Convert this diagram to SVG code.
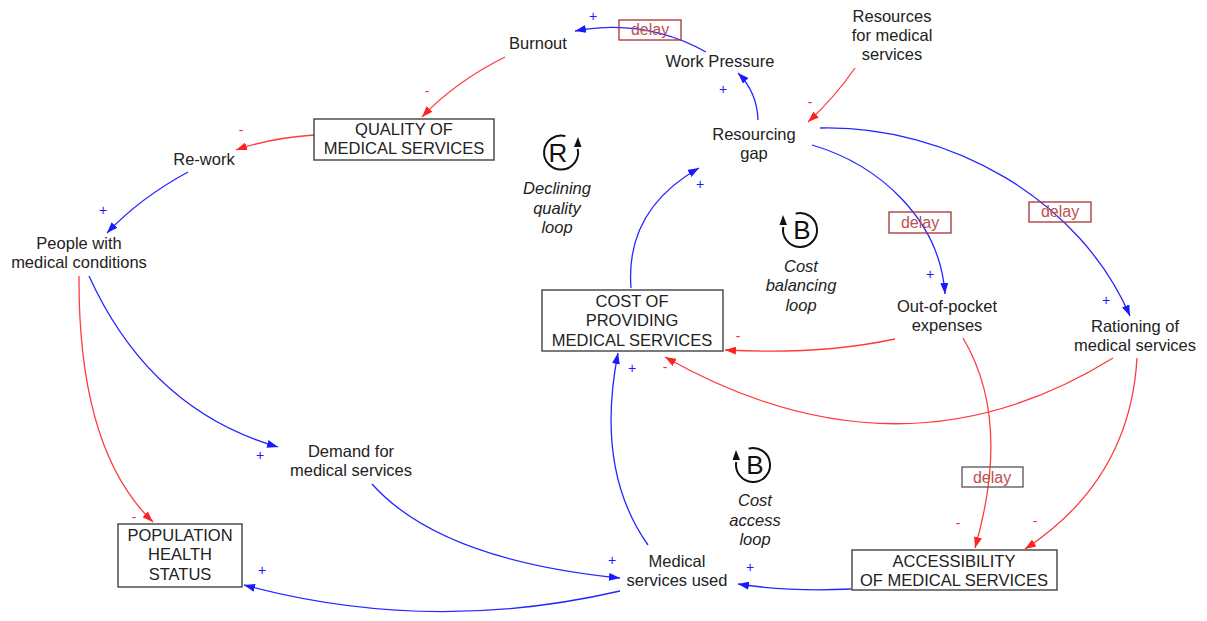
<svg xmlns="http://www.w3.org/2000/svg" width="1207" height="621" viewBox="0 0 1207 621">
  <style>
    .lbl { font-family: "Liberation Sans", Arial, sans-serif; font-size: 16.5px; fill: #222; text-anchor: middle; }
    .loop { font-family: "Liberation Sans", Arial, sans-serif; font-size: 16.5px; font-style: italic; fill: #222; text-anchor: middle; }
    .box { fill: #fff; stroke: #333; stroke-width: 1.3; }
    .pos { stroke: #2626ff; stroke-width: 1.3; fill: none; marker-end: url(#ahBlue); }
    .neg { stroke: #ff3b3b; stroke-width: 1.3; fill: none; marker-end: url(#ahRed); }
    .sp { font-family: "Liberation Sans", Arial, sans-serif; font-size: 14px; fill: #1a1aff; text-anchor: middle; }
    .sn { font-family: "Liberation Sans", Arial, sans-serif; font-size: 14px; fill: #ff2a2a; text-anchor: middle; }
    .dbox { fill: none; stroke: #a83232; stroke-width: 1.3; }
    .dtxt { font-family: "Liberation Sans", Arial, sans-serif; font-size: 16px; fill: #c0504d; text-anchor: middle; }
    .icon { fill: none; stroke: #111; stroke-width: 2; }
    .iconL { font-family: "Liberation Sans", Arial, sans-serif; font-size: 26px; fill: #111; text-anchor: middle; }
  </style>
  <defs>
    <marker id="ahBlue" markerUnits="userSpaceOnUse" markerWidth="12" markerHeight="8" refX="11" refY="4" orient="auto">
      <path d="M0,0 L11,4 L0,8 z" fill="#1a1aff"/>
    </marker>
    <marker id="ahRed" markerUnits="userSpaceOnUse" markerWidth="12" markerHeight="8" refX="11" refY="4" orient="auto">
      <path d="M0,0 L11,4 L0,8 z" fill="#ff2020"/>
    </marker>
  </defs>
  <rect width="1207" height="621" fill="#fff"/>

  <!-- causal links -->
  <g id="connectors">
    <path class="pos" d="M706,52 Q645,18 575,31"/>
    <path class="pos" d="M758,120 Q757,92 738,73"/>
    <path class="neg" d="M855,68 Q835,97 808,122"/>
    <path class="neg" d="M505,57 Q455,82 422,117"/>
    <path class="neg" d="M314,135 Q270,138 236,150"/>
    <path class="pos" d="M188,172 Q140,198 107,233"/>
    <path class="neg" d="M79,276 Q78,450 153,522"/>
    <path class="pos" d="M89,276 Q150,410 278,447"/>
    <path class="pos" d="M372,484 Q440,560 620,578"/>
    <path class="pos" d="M620,591 Q430,635 244,585"/>
    <path class="pos" d="M648,545 Q595,470 618,353"/>
    <path class="pos" d="M631,288 Q625,210 699,168"/>
    <path class="pos" d="M812,145 C880,165 940,220 945,294"/>
    <path class="pos" d="M820,128 C950,125 1080,200 1130,316"/>
    <path class="neg" d="M895,339 Q820,355 725,350"/>
    <path class="neg" d="M1113,358 Q900,490 665,357"/>
    <path class="neg" d="M963,338 Q1012,420 975,548"/>
    <path class="neg" d="M1137,358 Q1130,480 1025,549"/>
    <path class="pos" d="M851,589 Q790,592 738,584"/>
  </g>

  <!-- link polarities -->
  <g id="polarities">
    <text class="sp" x="593" y="21">+</text>
    <text class="sp" x="723" y="94">+</text>
    <text class="sn" x="810" y="107">-</text>
    <text class="sn" x="427" y="96">-</text>
    <text class="sn" x="241" y="135">-</text>
    <text class="sp" x="103" y="215">+</text>
    <text class="sn" x="134" y="522">-</text>
    <text class="sp" x="260" y="460">+</text>
    <text class="sp" x="612" y="565">+</text>
    <text class="sp" x="262" y="575">+</text>
    <text class="sp" x="632" y="373">+</text>
    <text class="sp" x="700" y="189">+</text>
    <text class="sp" x="930" y="279">+</text>
    <text class="sp" x="1106" y="305">+</text>
    <text class="sn" x="738" y="341">-</text>
    <text class="sn" x="665" y="372">-</text>
    <text class="sn" x="958" y="528">-</text>
    <text class="sn" x="1035" y="526">-</text>
    <text class="sp" x="750" y="572">+</text>
  </g>

  <!-- delay marks -->
  <g id="delays">
    <rect class="dbox" x="619" y="20" width="62" height="20"/>
    <text class="dtxt" x="650" y="35">delay</text>
    <rect class="dbox" x="889" y="212" width="62" height="21"/>
    <text class="dtxt" x="920" y="228">delay</text>
    <rect class="dbox" x="1029" y="202" width="62" height="20"/>
    <text class="dtxt" x="1060" y="217">delay</text>
    <rect class="dbox" x="962" y="467" width="61" height="20" style="stroke:#555"/>
    <text class="dtxt" x="992" y="483">delay</text>
  </g>

  <!-- variables -->
  <g id="burnout"><text class="lbl" x="538" y="49">Burnout</text></g>
  <g id="work-pressure"><text class="lbl" x="720" y="67">Work Pressure</text></g>
  <g id="resources"><text class="lbl" x="892" y="22">Resources</text><text class="lbl" x="892" y="41">for medical</text><text class="lbl" x="892" y="60">services</text></g>
  <g id="resourcing-gap"><text class="lbl" x="754" y="140">Resourcing</text><text class="lbl" x="754" y="159">gap</text></g>
  <g id="quality">
    <rect class="box" x="314" y="119" width="180" height="41"/>
    <text class="lbl" x="404" y="135">QUALITY OF</text><text class="lbl" x="404" y="154">MEDICAL SERVICES</text>
  </g>
  <g id="rework"><text class="lbl" x="204" y="165">Re-work</text></g>
  <g id="people"><text class="lbl" x="79" y="249">People with</text><text class="lbl" x="79" y="268">medical conditions</text></g>
  <g id="out-of-pocket"><text class="lbl" x="947" y="312">Out-of-pocket</text><text class="lbl" x="947" y="331">expenses</text></g>
  <g id="rationing"><text class="lbl" x="1135" y="332">Rationing of</text><text class="lbl" x="1135" y="351">medical services</text></g>
  <g id="cost">
    <rect class="box" x="542" y="290" width="181" height="61"/>
    <text class="lbl" x="632" y="307">COST OF</text><text class="lbl" x="632" y="326">PROVIDING</text><text class="lbl" x="632" y="346">MEDICAL SERVICES</text>
  </g>
  <g id="demand"><text class="lbl" x="351" y="457">Demand for</text><text class="lbl" x="351" y="476">medical services</text></g>
  <g id="services-used"><text class="lbl" x="677" y="567">Medical</text><text class="lbl" x="677" y="586">services used</text></g>
  <g id="accessibility">
    <rect class="box" x="852" y="550" width="205" height="40"/>
    <text class="lbl" x="954" y="567">ACCESSIBILITY</text><text class="lbl" x="954" y="586">OF MEDICAL SERVICES</text>
  </g>
  <g id="population">
    <rect class="box" x="118" y="524" width="124" height="63"/>
    <text class="lbl" x="180" y="541">POPULATION</text><text class="lbl" x="180" y="560">HEALTH</text><text class="lbl" x="180" y="580">STATUS</text>
  </g>

  <!-- loop markers -->
  <g id="loop-declining-quality">
    <path class="icon" d="M565.4,136.1 A17,17 0 1 0 577.7,149"/>
    <polygon points="578,137 574,147 581.5,147" fill="#111"/>
    <text class="iconL" x="558" y="162">R</text>
    <text class="loop" x="557" y="194">Declining</text><text class="loop" x="557" y="214">quality</text><text class="loop" x="557" y="233">loop</text>
  </g>
  <g id="loop-cost-balancing">
    <path class="icon" d="M795.6,213.6 A17,17 0 1 1 783.3,227"/>
    <polygon points="783,215 779.5,225 787,225" fill="#111"/>
    <text class="iconL" x="802" y="239">B</text>
    <text class="loop" x="801" y="272">Cost</text><text class="loop" x="801" y="291">balancing</text><text class="loop" x="801" y="311">loop</text>
  </g>
  <g id="loop-cost-access">
    <path class="icon" d="M748.6,448.6 A17,17 0 1 1 736.3,462"/>
    <polygon points="736,450 732.5,460 740,460" fill="#111"/>
    <text class="iconL" x="755" y="474">B</text>
    <text class="loop" x="755" y="506">Cost</text><text class="loop" x="755" y="526">access</text><text class="loop" x="755" y="545">loop</text>
  </g>
</svg>
